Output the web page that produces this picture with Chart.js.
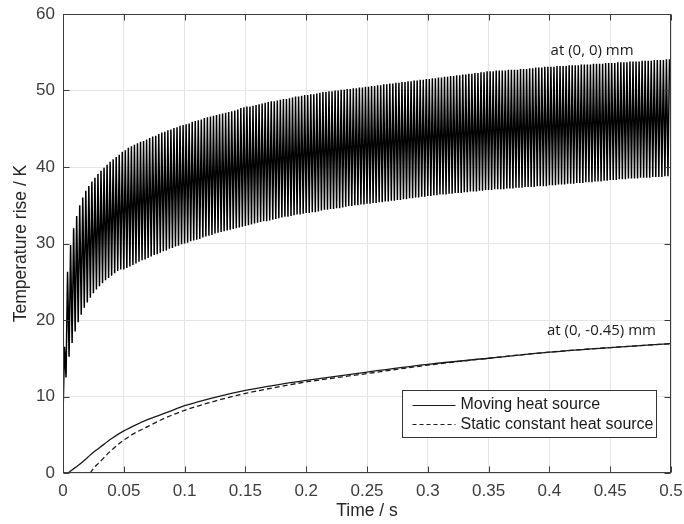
<!DOCTYPE html>
<html>
<head>
<meta charset="utf-8">
<script src="https://cdn.jsdelivr.net/npm/chart.js@4.4.1/dist/chart.umd.min.js"></script>
<style>
  html, body { margin: 0; padding: 0; background: #fff; }
</style>
</head>
<body>
<canvas id="tempChart" width="684" height="524"></canvas>
<script>
// Temperature rise vs time, pulsed (moving) source at (0,0) and two curves at (0,-0.45) mm

// one peak + one trough per pass of the source
const pulsePeriod = 0.0025; // s

const pulsePeaks = [
  16.5, 26.3, 29.8, 32.0, 33.6, 35.0, 36.0, 36.9, 37.5, 38.1, 38.6, 39.1, 39.5, 39.9, 40.3, 40.7, 41.0, 41.3, 41.6, 42.0,
  42.2, 42.5, 42.7, 42.9, 43.1, 43.3, 43.4, 43.6, 43.8, 44.0, 44.1, 44.3, 44.5, 44.6, 44.8, 44.9, 45.1, 45.2, 45.4, 45.5,
  45.6, 45.7, 45.9, 46.0, 46.1, 46.2, 46.4, 46.5, 46.6, 46.7, 46.8, 46.9, 47.0, 47.1, 47.2, 47.3, 47.4, 47.5, 47.7, 47.8,
  47.9, 47.9, 48.0, 48.1, 48.2, 48.3, 48.4, 48.5, 48.6, 48.6, 48.7, 48.8, 48.9, 48.9, 49.0, 49.1, 49.2, 49.2, 49.3, 49.4,
  49.4, 49.5, 49.5, 49.6, 49.7, 49.8, 49.8, 49.9, 49.9, 50.0, 50.0, 50.1, 50.1, 50.2, 50.2, 50.3, 50.3, 50.4, 50.4, 50.5,
  50.5, 50.6, 50.6, 50.7, 50.7, 50.8, 50.8, 50.9, 50.9, 51.0, 51.0, 51.1, 51.1, 51.2, 51.2, 51.3, 51.3, 51.4, 51.4, 51.5,
  51.5, 51.6, 51.6, 51.7, 51.7, 51.8, 51.8, 51.9, 51.9, 52.0, 52.0, 52.1, 52.1, 52.2, 52.2, 52.3, 52.3, 52.4, 52.4, 52.5,
  52.5, 52.5, 52.6, 52.6, 52.6, 52.6, 52.7, 52.7, 52.7, 52.7, 52.8, 52.8, 52.8, 52.9, 52.9, 53.0, 53.0, 53.0, 53.1, 53.1,
  53.1, 53.1, 53.2, 53.2, 53.2, 53.2, 53.3, 53.3, 53.3, 53.3, 53.4, 53.4, 53.4, 53.4, 53.5, 53.5, 53.5, 53.5, 53.6, 53.6,
  53.6, 53.6, 53.7, 53.7, 53.7, 53.7, 53.8, 53.8, 53.8, 53.8, 53.9, 53.9, 53.9, 53.9, 54.0, 54.0, 54.0, 54.0, 54.1, 54.1
];

const pulseTroughs = [
  7.6, 12.5, 15.2, 17.0, 18.5, 19.7, 20.7, 21.6, 22.3, 22.9, 23.5, 24.0, 24.4, 24.8, 25.2, 25.5, 25.8, 26.1, 26.4, 26.6,
  26.6, 26.8, 27.0, 27.2, 27.4, 27.6, 27.8, 27.9, 28.1, 28.3, 28.5, 28.6, 28.8, 29.0, 29.1, 29.3, 29.4, 29.6, 29.7, 29.9,
  30.0, 30.1, 30.3, 30.4, 30.5, 30.6, 30.8, 30.9, 31.0, 31.1, 31.3, 31.4, 31.5, 31.6, 31.7, 31.8, 31.9, 32.0, 32.1, 32.2,
  32.3, 32.4, 32.5, 32.6, 32.7, 32.8, 32.9, 32.9, 33.0, 33.1, 33.2, 33.3, 33.4, 33.5, 33.5, 33.6, 33.7, 33.8, 33.8, 33.9,
  34.0, 34.0, 34.1, 34.1, 34.2, 34.3, 34.4, 34.4, 34.5, 34.5, 34.6, 34.6, 34.7, 34.8, 34.9, 34.9, 35.0, 35.0, 35.1, 35.1,
  35.2, 35.2, 35.3, 35.3, 35.4, 35.4, 35.5, 35.5, 35.6, 35.6, 35.7, 35.7, 35.8, 35.8, 35.9, 35.9, 36.0, 36.0, 36.1, 36.1,
  36.2, 36.2, 36.3, 36.3, 36.4, 36.4, 36.4, 36.5, 36.5, 36.6, 36.6, 36.6, 36.7, 36.7, 36.8, 36.8, 36.8, 36.9, 36.9, 37.0,
  37.0, 37.0, 37.1, 37.1, 37.1, 37.1, 37.2, 37.2, 37.2, 37.3, 37.3, 37.3, 37.4, 37.4, 37.4, 37.4, 37.5, 37.5, 37.5, 37.5,
  37.6, 37.6, 37.6, 37.7, 37.7, 37.7, 37.8, 37.8, 37.8, 37.9, 37.9, 37.9, 38.0, 38.0, 38.0, 38.1, 38.1, 38.1, 38.2, 38.2,
  38.3, 38.3, 38.3, 38.4, 38.4, 38.4, 38.5, 38.5, 38.5, 38.5, 38.6, 38.6, 38.6, 38.6, 38.7, 38.7, 38.7, 38.7, 38.8, 38.8
];

const movingTime = [0.004, 0.01, 0.015, 0.02, 0.025, 0.03, 0.04, 0.05, 0.06, 0.07, 0.08, 0.09, 0.1,
  0.125, 0.15, 0.175, 0.2, 0.25, 0.3, 0.35, 0.4, 0.45, 0.5];
const movingRise = [0, 0.7, 1.3, 2.0, 2.7, 3.3, 4.5, 5.5, 6.3, 7.0, 7.6, 8.2, 8.8,
  9.9, 10.8, 11.5, 12.1, 13.2, 14.2, 15.0, 15.8, 16.4, 16.9];

const staticTime = [0.0225, 0.025, 0.03, 0.04, 0.05, 0.06, 0.07, 0.08, 0.09, 0.1,
  0.125, 0.15, 0.175, 0.2, 0.25, 0.3, 0.35, 0.4, 0.45, 0.5];
const staticRise = [0, 0.6, 1.4, 3.0, 4.3, 5.3, 6.1, 6.9, 7.6, 8.2,
  9.4, 10.4, 11.2, 11.9, 13.0, 14.1, 15.0, 15.8, 16.4, 16.9];

const xTicks = [0, 0.05, 0.1, 0.15, 0.2, 0.25, 0.3, 0.35, 0.4, 0.45, 0.5];
const yTicks = [0, 10, 20, 30, 40, 50, 60];

const legendLabels = ['Moving heat source', 'Static constant heat source'];
const curveNotes = ['at (0, 0) mm', 'at (0, -0.45) mm'];

// zigzag through trough/peak pairs
const pulsePoints = [];
pulseTroughs.forEach(function(lo, i) {
  pulsePoints.push({ x: i * pulsePeriod, y: lo });
  pulsePoints.push({ x: (i + 0.5) * pulsePeriod, y: pulsePeaks[i] });
});

const movingPoints = movingTime.map((t, i) => ({ x: t, y: movingRise[i] }));
const staticPoints = staticTime.map((t, i) => ({ x: t, y: staticRise[i] }));

const AXIS_COLOR = '#3c3c3c';
const TICK_FONT = { family: '"Liberation Sans", Arial, sans-serif', size: 17 };

// MATLAB-like box, inward ticks, legend and curve notes
const matlabFrame = {
  id: 'matlabFrame',
  afterDatasetsDraw(chart) {
    const ctx = chart.ctx;
    const a = chart.chartArea;
    const xs = chart.scales.x, ys = chart.scales.y;
    const L = Math.round(a.left) + 0.5, R = Math.round(a.right) - 0.5;
    const T = Math.round(a.top) + 0.5, B = Math.round(a.bottom) - 0.5;
    ctx.save();

    // curve notes
    ctx.fillStyle = '#1a1a1a';
    ctx.font = '15px "Open Sans", sans-serif';
    ctx.textAlign = 'left';
    ctx.textBaseline = 'alphabetic';
    ctx.fillText(curveNotes[0], xs.getPixelForValue(0.401), ys.getPixelForValue(54.6));
    ctx.fillText(curveNotes[1], xs.getPixelForValue(0.398), ys.getPixelForValue(18.0));

    // legend box
    const bx = Math.round(xs.getPixelForValue(0.2785)) + 0.5;
    const bw = 254;
    const by = 390.5, bh = 47;
    ctx.fillStyle = '#fff';
    ctx.fillRect(bx, by, bw, bh);
    ctx.strokeStyle = '#333';
    ctx.lineWidth = 1;
    ctx.strokeRect(bx, by, bw, bh);

    ctx.strokeStyle = '#1a1a1a';
    ctx.lineWidth = 1.2;
    ctx.beginPath();
    ctx.moveTo(bx + 10, 405.5); ctx.lineTo(bx + 53, 405.5);
    ctx.stroke();
    ctx.setLineDash([4, 3]);
    ctx.beginPath();
    ctx.moveTo(bx + 10, 424.5); ctx.lineTo(bx + 53, 424.5);
    ctx.stroke();
    ctx.setLineDash([]);

    ctx.fillStyle = '#1a1a1a';
    ctx.font = '16px "Liberation Sans", Arial, sans-serif';
    ctx.textBaseline = 'middle';
    ctx.fillText(legendLabels[0], bx + 58, 405);
    ctx.fillText(legendLabels[1], bx + 58, 425);

    // axes box
    ctx.strokeStyle = AXIS_COLOR;
    ctx.lineWidth = 1;
    ctx.strokeRect(L, T, R - L, B - T);

    // inward ticks on all four sides
    ctx.beginPath();
    xTicks.forEach(function(v) {
      const px = Math.round(xs.getPixelForValue(v)) + 0.5;
      ctx.moveTo(px, B); ctx.lineTo(px, B - 6);
      ctx.moveTo(px, T); ctx.lineTo(px, T + 6);
    });
    yTicks.forEach(function(v) {
      const py = Math.round(ys.getPixelForValue(v)) + 0.5;
      ctx.moveTo(L, py); ctx.lineTo(L + 6, py);
      ctx.moveTo(R, py); ctx.lineTo(R - 6, py);
    });
    ctx.stroke();
    ctx.restore();
  }
};

new Chart(document.getElementById('tempChart').getContext('2d'), {
  type: 'line',
  data: {
    datasets: [
      {
        label: 'at (0, 0) mm',
        data: pulsePoints,
        borderColor: '#000',
        borderWidth: 1.5,
        pointRadius: 0,
        tension: 0,
        fill: false
      },
      {
        label: legendLabels[0],
        data: movingPoints,
        borderColor: '#1a1a1a',
        borderWidth: 1.3,
        pointRadius: 0,
        cubicInterpolationMode: 'monotone',
        fill: false
      },
      {
        label: legendLabels[1],
        data: staticPoints,
        borderColor: '#1a1a1a',
        borderWidth: 1.3,
        borderDash: [5, 3],
        pointRadius: 0,
        cubicInterpolationMode: 'monotone',
        fill: false
      }
    ]
  },
  options: {
    responsive: false,
    animation: false,
    events: [],
    layout: { padding: { top: 14, right: 13, left: 0, bottom: 0 } },
    plugins: {
      legend: { display: false },
      tooltip: { enabled: false }
    },
    scales: {
      x: {
        type: 'linear',
        min: 0,
        max: 0.5,
        afterBuildTicks: s => { s.ticks = xTicks.map(v => ({ value: v })); },
        afterFit: s => { s.height = 51; s.paddingLeft = 0; s.paddingRight = 0; },
        border: { display: false },
        grid: { color: '#e4e4e4', lineWidth: 1, drawTicks: false },
        ticks: {
          color: AXIS_COLOR,
          font: TICK_FONT,
          padding: 8,
          maxRotation: 0,
          autoSkip: false,
          callback: v => String(Number(v.toFixed(2)))
        },
        title: {
          display: true,
          text: 'Time / s',
          color: '#262626',
          font: { family: '"Liberation Sans", Arial, sans-serif', size: 17.5 },
          padding: { top: 0, bottom: 2 }
        }
      },
      y: {
        min: 0,
        max: 60,
        afterBuildTicks: s => { s.ticks = yTicks.map(v => ({ value: v })); },
        afterFit: s => { s.width = 63; s.paddingTop = 0; s.paddingBottom = 0; },
        border: { display: false },
        grid: { color: '#e4e4e4', lineWidth: 1, drawTicks: false },
        ticks: { color: AXIS_COLOR, font: TICK_FONT, padding: 8 },
        title: {
          display: true,
          text: 'Temperature rise / K',
          color: '#262626',
          font: { family: '"Liberation Sans", Arial, sans-serif', size: 17.5 },
          padding: { top: 11, bottom: 0 }
        }
      }
    }
  },
  plugins: [matlabFrame]
});
</script>
</body>
</html>
